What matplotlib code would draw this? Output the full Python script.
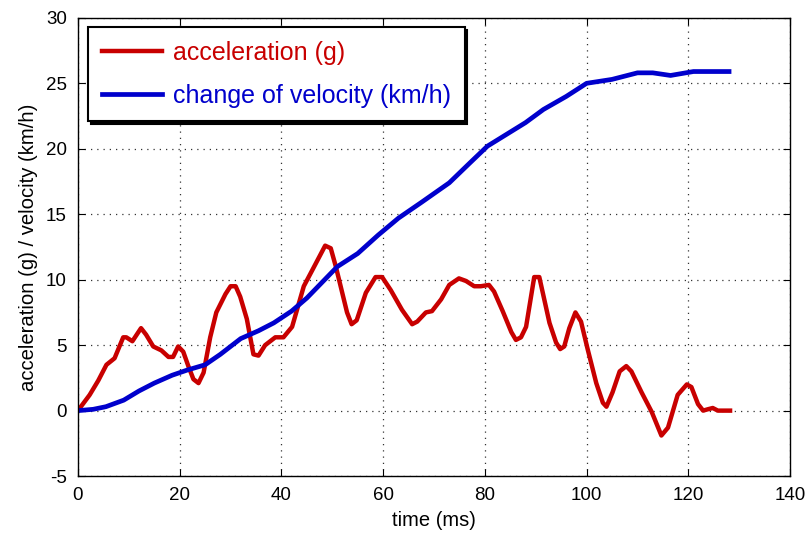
import matplotlib
matplotlib.use('Agg')
import matplotlib.pyplot as plt

plt.rcParams['font.family'] = ['Liberation Sans', 'DejaVu Sans']
plt.rcParams['axes.unicode_minus'] = False

# 数据
t_acc = [0, 2.3, 4, 5.6, 7.2, 8.9, 9.5, 10.7, 12.4, 13.4, 14.8, 16.4, 17.8, 18.7, 19.7, 20.7,
         21.7, 22.7, 23.7, 24.7, 26, 27.2, 29, 30, 31, 31.9, 33.2, 34.5, 35.5, 36.8, 38.8, 40.4,
         42.1, 44.4, 46.3, 48.6, 49.7, 50.7, 52.9, 53.8, 54.8, 56.6, 58.5, 59.8, 61.5, 63.7, 65.7,
         66.7, 68.4, 69.6, 71.4, 73, 74.9, 76.3, 77.9, 79.2, 80.8, 81.8, 83.5, 85.2, 86.1, 87.1,
         88.1, 89.7, 90.7, 92.7, 94, 94.8, 95.6, 96.6, 97.8, 98.9, 100.2, 101.9, 103.2, 103.9,
         105.1, 106.5, 107.8, 108.8, 110.8, 112.8, 114.7, 116, 117.9, 119.7, 120.6, 121.9, 122.9,
         123.8, 124.8, 125.8, 128.2]
acc = [0, 1.2, 2.3, 3.5, 4.0, 5.6, 5.6, 5.3, 6.3, 5.8, 4.9, 4.6, 4.1, 4.1, 4.9, 4.5,
       3.4, 2.4, 2.1, 2.9, 5.6, 7.5, 8.9, 9.5, 9.5, 8.7, 7.0, 4.3, 4.2, 5.0, 5.6, 5.6,
       6.4, 9.5, 10.9, 12.6, 12.4, 11.0, 7.5, 6.6, 6.9, 9.0, 10.2, 10.2, 9.2, 7.7, 6.6,
       6.8, 7.5, 7.6, 8.5, 9.6, 10.1, 9.9, 9.5, 9.5, 9.6, 9.1, 7.6, 6.0, 5.4, 5.6,
       6.4, 10.2, 10.2, 6.7, 5.2, 4.7, 4.9, 6.3, 7.5, 6.8, 4.7, 2.1, 0.6, 0.3,
       1.4, 3.0, 3.4, 3.0, 1.4, -0.1, -1.9, -1.3, 1.2, 2.0, 1.8, 0.5, 0.0,
       0.1, 0.2, 0.0, 0.0]

t_vel = [0, 3, 5.5, 9, 12, 15, 18.5, 21.5, 25, 28, 32, 35.5, 38.5, 42, 45, 48, 51, 55, 59, 63,
         67.5, 73, 77, 80.5, 83, 88, 91.5, 96, 100, 105, 110, 113, 116.5, 121, 128]
vel = [0, 0.1, 0.3, 0.8, 1.5, 2.1, 2.7, 3.1, 3.5, 4.3, 5.5, 6.1, 6.7, 7.6, 8.6, 9.8, 11.0, 12.0,
       13.4, 14.7, 15.9, 17.4, 18.9, 20.2, 20.8, 22.0, 23.0, 24.0, 25.0, 25.3, 25.8, 25.8, 25.6,
       25.9, 25.9]

red = '#C80000'
blue = '#0000CC'

fig, ax = plt.subplots(figsize=(8.12, 5.41), dpi=100)
fig.subplots_adjust(left=0.096, right=0.973, top=0.967, bottom=0.12)

ax.plot(t_acc, acc, color=red, lw=3.2, label='acceleration (g)', solid_joinstyle='round')
ax.plot(t_vel, vel, color=blue, lw=3.4, label='change of velocity (km/h)', solid_joinstyle='round')

ax.set_xlim(0, 140)
ax.set_ylim(-5, 30)
ax.set_xticks(range(0, 141, 20))
ax.set_yticks(range(-5, 31, 5))
ax.grid(True, linestyle=(0, (1, 4)), color='#333333', lw=0.9)
ax.tick_params(direction='in', top=True, right=True, labelsize=13.5, length=5, pad=8)
for s in ax.spines.values():
    s.set_linewidth(1.0)

ax.set_xlabel('time (ms)', fontsize=14.5, labelpad=5)
ax.set_ylabel('acceleration (g) / velocity (km/h)', fontsize=14.6, labelpad=6)

leg = ax.legend(loc='upper left', bbox_to_anchor=(0.014, 0.98), borderaxespad=0,
                fontsize=18, fancybox=False, framealpha=1, edgecolor='black',
                borderpad=0.55, handlelength=2.4, handletextpad=0.45, labelspacing=0.75,
                shadow={'color': 'black', 'alpha': 1})
leg.get_frame().set_linewidth(1.5)
for txt, c in zip(leg.get_texts(), [red, blue]):
    txt.set_color(c)

plt.savefig('out.png', dpi=100)
